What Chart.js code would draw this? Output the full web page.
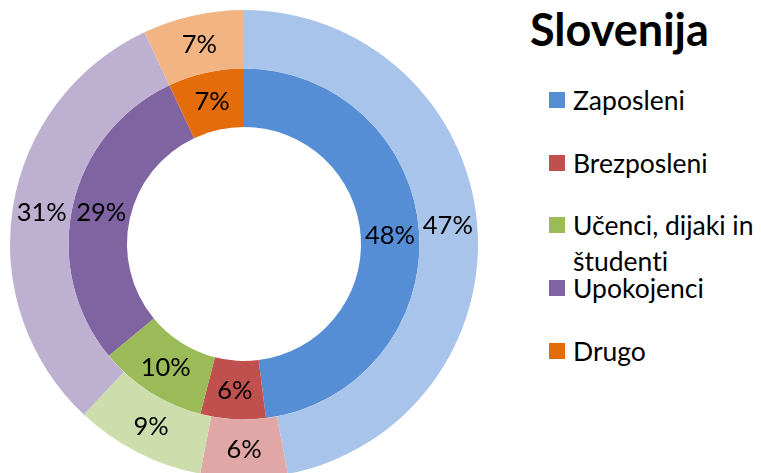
<!DOCTYPE html>
<html>
<head>
<meta charset="utf-8">
<script src="https://cdn.jsdelivr.net/npm/chart.js@4"></script>
<style>
  html, body { margin: 0; padding: 0; width: 761px; height: 473px; overflow: hidden; background: #fff; }
  #wrap { position: absolute; left: 0; top: 0; width: 488px; height: 488px; }
  #title { position: absolute; left: 530px; top: 7px; font-family: Lato, sans-serif; font-weight: bold; font-size: 45px; line-height: 45px; color: #000; white-space: nowrap; font-variant-ligatures: none; }
  .item { position: absolute; left: 549px; font-family: Lato, sans-serif; font-size: 26.5px; color: #000; white-space: nowrap; font-variant-ligatures: none; }
  .box { position: absolute; left: 0; width: 16px; height: 16px; }
  .txt { position: absolute; left: 24px; top: 0; }
</style>
</head>
<body>
<div id="wrap"><canvas id="c" width="488" height="488"></canvas></div>
<div id="title"></div>
<div id="legend"></div>
<script>
const chartTitle = 'Slovenija';
const categories = ['Zaposleni', 'Brezposleni', 'Učenci, dijaki in študenti', 'Upokojenci', 'Drugo'];
const legendLines = [['Zaposleni'], ['Brezposleni'], ['Učenci, dijaki in', 'študenti'], ['Upokojenci'], ['Drugo']];
const outerValues = [47, 6, 9, 31, 7];
const innerValues = [48, 6, 10, 29, 7];
const innerColors = ['#558ED5', '#C0504D', '#9BBB59', '#8064A2', '#E46C0A'];
const outerColors = ['#A9C4EB', '#E0A7A6', '#CDDDAC', '#BEB0D0', '#F2B482'];

document.getElementById('title').textContent = chartTitle;

const legendCenters = [99.5, 162.5, 225, 288, 351];
const legend = document.getElementById('legend');
legendLines.forEach((lines, i) => {
  const lh = 36;
  const item = document.createElement('div');
  item.className = 'item';
  item.style.top = (legendCenters[i] - lh / 2) + 'px';
  item.style.lineHeight = lh + 'px';
  const box = document.createElement('div');
  box.className = 'box';
  box.style.background = innerColors[i];
  box.style.top = (lh / 2 - 8) + 'px';
  const txt = document.createElement('div');
  txt.className = 'txt';
  lines.forEach((l, j) => {
    const d = document.createElement('div');
    d.textContent = l;
    txt.appendChild(d);
  });
  item.appendChild(box);
  item.appendChild(txt);
  legend.appendChild(item);
});

const labelPlugin = {
  id: 'arcLabels',
  afterDatasetsDraw(chart) {
    const ctx = chart.ctx;
    ctx.save();
    ctx.font = '25.5px Lato, sans-serif';
    ctx.fillStyle = '#000';
    ctx.textAlign = 'center';
    ctx.textBaseline = 'alphabetic';
    chart.data.datasets.forEach((ds, di) => {
      const meta = chart.getDatasetMeta(di);
      meta.data.forEach((arc, i) => {
        const p = arc.tooltipPosition();
        ctx.fillText(ds.data[i] + '%', p.x, p.y + 9);
      });
    });
    ctx.restore();
  }
};

new Chart(document.getElementById('c'), {
  type: 'doughnut',
  data: {
    labels: categories,
    datasets: [
      { data: outerValues, backgroundColor: outerColors, borderWidth: 0 },
      { data: innerValues, backgroundColor: innerColors, borderWidth: 0 }
    ]
  },
  options: {
    responsive: false,
    animation: false,
    cutout: '50%',
    layout: { padding: 10 },
    plugins: { legend: { display: false }, tooltip: { enabled: false }, title: { display: false } }
  },
  plugins: [labelPlugin]
});
</script>
</body>
</html>
